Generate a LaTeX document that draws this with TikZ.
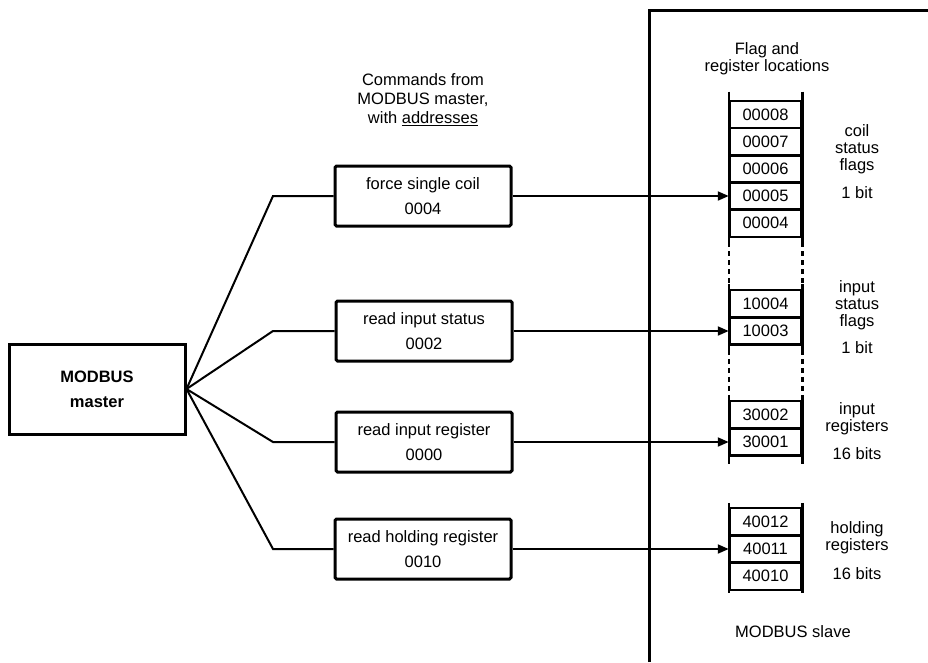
\documentclass[tikz,border=0pt]{standalone}
\usepackage{fontspec}
\setmainfont{Liberation Sans}
\usetikzlibrary{arrows.meta}

\begin{document}
\begin{tikzpicture}[
  x=1pt, y=-1pt,
  every node/.style={font=\fontsize{16.5}{17}\selectfont},
  cmdbox/.style={draw, line width=3pt, rounded corners=1.5pt, minimum width=176pt,
    minimum height=60pt, align=center, font=\fontsize{16.5}{25}\selectfont},
  cell/.style={draw, line width=2.5pt, minimum width=71pt, minimum height=27.3pt, inner sep=0pt},
  regline/.style={line width=2.5pt},
  dashcol/.style={line width=2.5pt, dash pattern=on 5pt off 4pt},
  wire/.style={line width=2pt},
  note/.style={align=center, inner sep=0pt},
  >={Triangle[length=11pt,width=9pt]},
  ]
  \useasboundingbox (0,0) rectangle (928,662);

  % Master
  \node[draw, line width=3pt, minimum width=176pt, minimum height=90pt, align=center,
        font=\bfseries\fontsize{16.5}{25}\selectfont] (master) at (97,389) {MODBUS\\master};

  % Commandes
  \node[note, font=\fontsize{16.5}{19}\selectfont] (cmdtitle) at (423,100)
    {Commands from\\MODBUS master,\\with \underline{addresses}};
  \node[cmdbox] (force)  at (423,196) {force single coil\\0004};
  \node[cmdbox] (instat) at (424,331) {read input status\\0002};
  \node[cmdbox] (inreg)  at (424,442) {read input register\\0000};
  \node[cmdbox] (hold)   at (423,549) {read holding register\\0010};

  % Coudes
  \coordinate (e1) at (273,196);
  \coordinate (e2) at (273,331);
  \coordinate (e3) at (273,442);
  \coordinate (e4) at (273,549);

  % Liens master
  \draw[wire] (master.east) -- (e1) -- (force.west);
  \draw[wire] (master.east) -- (e2) -- (instat.west);
  \draw[wire] (master.east) -- (e3) -- (inreg.west);
  \draw[wire] (master.east) -- (e4) -- (hold.west);

  % Limite esclave
  \coordinate (sbot)   at (649,662);
  \coordinate (stop)   at (649,10);
  \coordinate (sright) at (928,10);
  \draw[line width=3pt] (sbot) -- (stop) -- (sright);

  % Registres
  \node[note] (flagtitle) at (767,59) {Flag and\\register locations};
  \node[cell] (c00008) at (765.5,114.4) {00008};
  \node[cell] (c00007) at (765.5,141.6) {00007};
  \node[cell] (c00006) at (765.5,168.8) {00006};
  \node[cell] (c00005) at (765.5,196)   {00005};
  \node[cell] (c00004) at (765.5,223.2) {00004};
  \node[cell] (c10004) at (765.5,303.7) {10004};
  \node[cell] (c10003) at (765.5,331)   {10003};
  \node[cell] (c30002) at (765.5,414.7) {30002};
  \node[cell] (c30001) at (765.5,442)   {30001};
  \node[cell] (c40012) at (765.5,521.7) {40012};
  \node[cell] (c40011) at (765.5,549)   {40011};
  \node[cell] (c40010) at (765.5,576.3) {40010};

  % Bords des colonnes
  \draw[regline] ([yshift=8pt]c00008.north west) -- ([yshift=-4pt]c00004.south west);
  \draw[regline] ([yshift=8pt]c00008.north east) -- ([yshift=-4pt]c00004.south east);
  \draw[dashcol] ([yshift=-4pt]c00004.south west) -- ([yshift=5pt]c10004.north west);
  \draw[dashcol] ([yshift=-4pt]c00004.south east) -- ([yshift=5pt]c10004.north east);
  \draw[regline] ([yshift=5pt]c10004.north west) -- ([yshift=-4pt]c10003.south west);
  \draw[regline] ([yshift=5pt]c10004.north east) -- ([yshift=-4pt]c10003.south east);
  \draw[dashcol] ([yshift=-4pt]c10003.south west) -- ([yshift=4pt]c30002.north west);
  \draw[dashcol] ([yshift=-4pt]c10003.south east) -- ([yshift=4pt]c30002.north east);
  \draw[regline] ([yshift=4pt]c30002.north west) -- ([yshift=-7pt]c30001.south west);
  \draw[regline] ([yshift=4pt]c30002.north east) -- ([yshift=-7pt]c30001.south east);
  \draw[regline] ([yshift=4pt]c40012.north west) -- ([yshift=-2pt]c40010.south west);
  \draw[regline] ([yshift=4pt]c40012.north east) -- ([yshift=-2pt]c40010.south east);

  % Fleches
  \draw[wire,->] (force.east)  -- (c00005.west);
  \draw[wire,->] (instat.east) -- (c10003.west);
  \draw[wire,->] (inreg.east)  -- (c30001.west);
  \draw[wire,->] (hold.east)   -- (c40011.west);

  % Legendes
  \node[note] (coillab)  at (857,149)   {coil\\status\\flags};
  \node[note] (coilbit)  at (857,193)   {1 bit};
  \node[note] (inlab)    at (857,305)   {input\\status\\flags};
  \node[note] (inbit)    at (857,348)   {1 bit};
  \node[note] (reglab)   at (857,418.5) {input\\registers};
  \node[note] (regbit)   at (857,454)   {16 bits};
  \node[note] (holdlab)  at (857,537.5) {holding\\registers};
  \node[note] (holdbit)  at (857,574)   {16 bits};
  \node[note] (slavelab) at (793,632)   {MODBUS slave};
\end{tikzpicture}
\end{document}
